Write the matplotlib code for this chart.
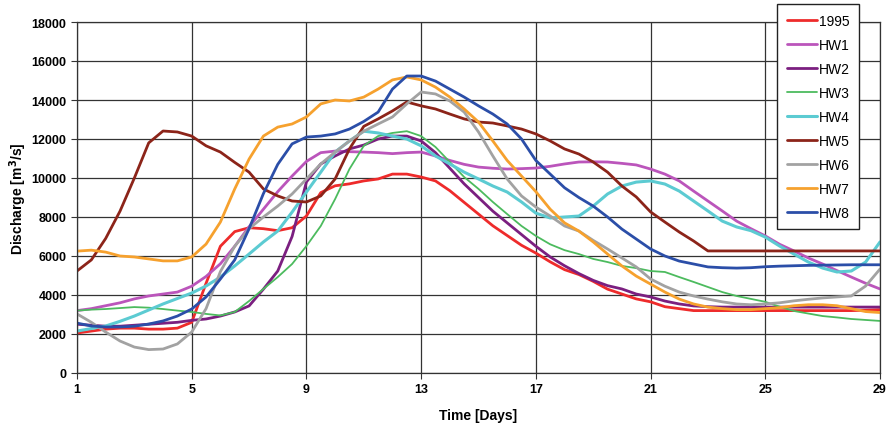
import matplotlib
matplotlib.use('Agg')
import matplotlib.pyplot as plt
import numpy as np

plt.rcParams['font.family'] = ['Liberation Sans', 'DejaVu Sans']

# days 1 .. 29 in half day steps
days = np.arange(1, 29.01, 0.5)

q1995 = [2050, 2150, 2250, 2300, 2300, 2250, 2250, 2300, 2600, 4600,
         6500, 7250, 7450, 7400, 7300, 7450, 8050, 9250, 9600, 9700,
         9850, 9950, 10200, 10200, 10050, 9850, 9350, 8750, 8150, 7550,
         7050, 6550, 6150, 5700, 5300, 5050, 4700, 4300, 4050, 3800,
         3650, 3400, 3300, 3200, 3200, 3200, 3200, 3200, 3200, 3200,
         3200, 3200, 3200, 3200, 3200, 3220, 3250]
hw1 = [3200, 3300, 3450, 3600, 3800, 3950, 4050, 4150, 4450, 4950,
       5600, 6500, 7500, 8400, 9300, 10100, 10850, 11300, 11380, 11350,
       11330, 11300, 11250, 11300, 11330, 11130, 10900, 10700, 10560, 10500,
       10460, 10480, 10510, 10600, 10720, 10820, 10830, 10820, 10750, 10670,
       10460, 10200, 9850, 9330, 8820, 8310, 7790, 7400, 7030, 6600,
       6260, 5900, 5590, 5250, 4920, 4600, 4310]
hw2 = [2500, 2450, 2400, 2400, 2450, 2500, 2550, 2600, 2700, 2770,
       2920, 3130, 3440, 4300, 5230, 7000, 9800, 10720, 11130, 11490,
       11690, 12000, 12150, 12150, 11900, 11300, 10500, 9700, 9000, 8300,
       7700, 7100, 6500, 5950, 5500, 5100, 4750, 4480, 4310, 4050,
       3900, 3690, 3540, 3440, 3400, 3380, 3380, 3380, 3380, 3380,
       3380, 3380, 3380, 3380, 3380, 3380, 3380]
hw3 = [3200, 3250, 3280, 3330, 3380, 3350, 3280, 3200, 3130, 3030,
       2950, 3130, 3690, 4310, 4920, 5590, 6510, 7540, 8920, 10460,
       11650, 12150, 12310, 12400, 12150, 11590, 10820, 10050, 9440, 8770,
       8150, 7540, 7030, 6600, 6300, 6100, 5850, 5690, 5490, 5380,
       5230, 5180, 4920, 4670, 4410, 4150, 3950, 3800, 3650, 3400,
       3180, 3050, 2920, 2850, 2770, 2720, 2670]
hw4 = [2150, 2280, 2410, 2650, 2920, 3230, 3540, 3820, 4100, 4460,
       4920, 5490, 6100, 6720, 7280, 8250, 9280, 10300, 11330, 11900,
       12400, 12310, 12150, 12000, 11650, 11130, 10720, 10300, 9950, 9590,
       9280, 8770, 8200, 7950, 8000, 8050, 8560, 9180, 9590, 9790,
       9850, 9690, 9330, 8820, 8310, 7790, 7490, 7300, 6970, 6510,
       6100, 5690, 5380, 5180, 5230, 5690, 6720]
hw5 = [5230, 5800, 6900, 8300, 10000, 11800, 12410, 12360, 12150, 11650,
       11330, 10800, 10300, 9440, 9080, 8820, 8770, 9080, 9950, 11490,
       12650, 13030, 13440, 13900, 13700, 13540, 13280, 13030, 12870, 12820,
       12670, 12510, 12260, 11900, 11490, 11230, 10820, 10300, 9590, 9030,
       8260, 7740, 7230, 6770, 6260, 6260, 6260, 6260, 6260, 6260,
       6260, 6260, 6260, 6260, 6260, 6260, 6260]
hw6 = [3030, 2600, 2100, 1640, 1330, 1200, 1230, 1490, 2100, 3300,
       5200, 6500, 7400, 8000, 8560, 9180, 9950, 10720, 11330, 11900,
       12400, 12770, 13130, 13800, 14410, 14310, 13950, 13380, 12360, 11130,
       9950, 9080, 8510, 8050, 7540, 7280, 6800, 6360, 5900, 5440,
       4820, 4450, 4150, 3950, 3790, 3650, 3540, 3500, 3540, 3600,
       3700, 3780, 3850, 3900, 3950, 4460, 5330]
hw7 = [6250, 6300, 6200, 6000, 5950, 5850, 5750, 5750, 5950, 6610,
       7740, 9440, 10970, 12150, 12610, 12770, 13130, 13800, 14000, 13950,
       14150, 14560, 15030, 15180, 15030, 14660, 14150, 13540, 12870, 11900,
       10900, 10100, 9300, 8400, 7700, 7280, 6720, 6100, 5490, 4970,
       4560, 4150, 3790, 3540, 3380, 3300, 3250, 3250, 3300, 3350,
       3450, 3500, 3500, 3450, 3300, 3150, 3100]
hw8 = [2560, 2410, 2360, 2360, 2400, 2510, 2670, 2920, 3280, 3900,
       4820, 5800, 7400, 9200, 10700, 11750, 12100, 12150, 12260, 12510,
       12900, 13380, 14560, 15230, 15230, 14970, 14560, 14150, 13700, 13280,
       12770, 12000, 10900, 10200, 9500, 9000, 8560, 8000, 7380, 6870,
       6360, 6000, 5740, 5590, 5440, 5400, 5380, 5400, 5450, 5480,
       5500, 5520, 5530, 5540, 5550, 5550, 5550]

names = ['1995', 'HW1', 'HW2', 'HW3', 'HW4', 'HW5', 'HW6', 'HW7', 'HW8']
series = [q1995, hw1, hw2, hw3, hw4, hw5, hw6, hw7, hw8]
colors = ['#ee2b2b', '#bb55bb', '#7b1f80', '#4cbb5e', '#5ccbd2',
          '#8c2419', '#a2a2a2', '#f6a12e', '#2b4ea8']
widths = [2.0, 2.0, 2.0, 1.3, 2.2, 2.0, 2.0, 2.0, 2.0]

fig = plt.figure(figsize=(8.89, 4.27), dpi=100)
ax = fig.add_axes([77/889, 1-374/427, (880-77)/889, (374-23)/427])

for q, n, c, w in zip(series, names, colors, widths):
    ax.plot(days, q, color=c, lw=w, label=n, solid_capstyle='round')

ax.set_xlim(1, 29)
ax.set_ylim(0, 18000)
ax.set_xticks(np.arange(1, 30, 4))
ax.set_yticks(np.arange(0, 18001, 2000))
ax.grid(True, color='#333333', lw=0.9)
ax.set_axisbelow(True)
for s in ax.spines.values():
    s.set_color('#333333')
    s.set_linewidth(0.9)
ax.tick_params(length=4, color='#333333', labelsize=9)
for lab in ax.get_xticklabels() + ax.get_yticklabels():
    lab.set_fontweight('bold')

ax.set_xlabel('Time [Days]', fontsize=10, fontweight='bold', labelpad=9)
ax.set_ylabel(r'Discharge [m$^\mathbf{3}$/s]', fontsize=10, fontweight='bold', labelpad=2)

leg = fig.legend(loc='upper left', bbox_to_anchor=(777/889, 1-5/427),
                 fontsize=10, frameon=True, fancybox=False, handlelength=2.2,
                 handletextpad=0.1, labelspacing=0.72, borderpad=0.7,
                 borderaxespad=0)
leg.get_frame().set_edgecolor('#222222')
leg.get_frame().set_linewidth(1.0)
leg.get_frame().set_alpha(1)

plt.savefig('out.png', dpi=100)
